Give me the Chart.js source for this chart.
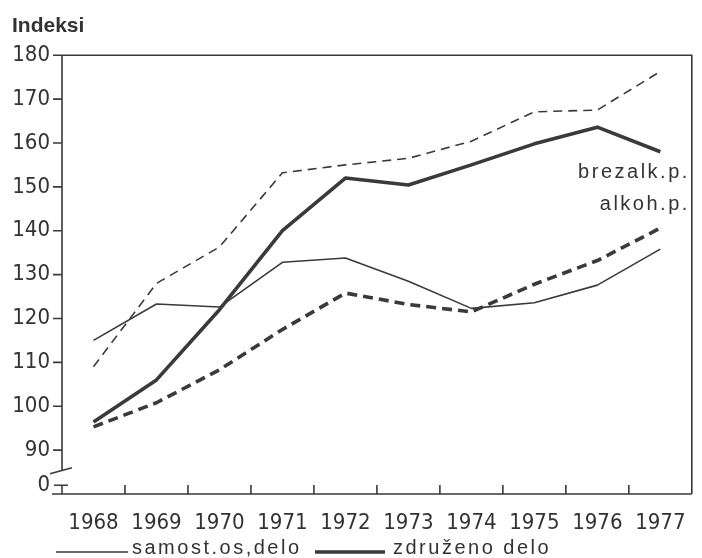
<!DOCTYPE html>
<html><head><meta charset="utf-8">
<script src="https://cdn.jsdelivr.net/npm/chart.js@4"></script>
<style>html,body{margin:0;padding:0;background:#fff}#wrap{width:702px;height:558px}</style>
</head><body><div id="wrap"><canvas id="c" width="702" height="558"></canvas></div>
<script>
// ---- data ----
const years = ['1968','1969','1970','1971','1972','1973','1974','1975','1976','1977'];
const samostBrezalk   = [109, 128, 136.3, 153.2, 155, 156.5, 160.4, 167.1, 167.5, 176.3]; // thin dashed
const zdruzenoBrezalk = [96.4, 106, 122, 140, 152, 150.4, 155, 159.8, 163.6, 158];        // thick solid
const samostAlkoh     = [115, 123.3, 122.6, 132.8, 133.8, 128.5, 122.3, 123.6, 127.6, 135.8]; // thin solid
const zdruzenoAlkoh   = [95.3, 100.8, 108.3, 117.5, 125.8, 123.2, 121.5, 127.8, 133.2, 140.6]; // thick dashed
const yTickValues = [82, 90, 100, 110, 120, 130, 140, 150, 160, 170, 180];
const yTickLabels = ['0', '90', '100', '110', '120', '130', '140', '150', '160', '170', '180'];
const legendLabels = ['samost.os,delo', 'združeno delo'];
const groupLabels = ['brezalk.p.', 'alkoh.p.'];
const groupLabelValues = [153.3, 146];
const axisTitle = 'Indeksi';

const INK = '#3a3a3a';
const TXT = '#333333';
const NUMFONT = "'Liberation Sans Narrow','DejaVu Sans Condensed','Liberation Sans',sans-serif";
const TXTFONT = "'Liberation Sans','DejaVu Sans',sans-serif";

const frame = {
  id: 'frame',
  beforeDatasetsDraw(chart) {
    const {ctx, chartArea: a, scales: {x, y}} = chart;
    ctx.save();
    ctx.strokeStyle = INK; ctx.lineWidth = 1.6; ctx.lineCap = 'butt';
    ctx.beginPath();
    ctx.moveTo(a.left, a.top); ctx.lineTo(a.right, a.top); ctx.lineTo(a.right, a.bottom);
    ctx.moveTo(a.left - 10, a.bottom); ctx.lineTo(a.right, a.bottom);
    const yb = y.getPixelForValue(85.3);
    ctx.moveTo(a.left, a.top); ctx.lineTo(a.left, yb);
    ctx.moveTo(a.left - 12, yb + 3); ctx.lineTo(a.left + 10, yb - 3);
    const y0 = y.getPixelForValue(yTickValues[0]);
    ctx.moveTo(a.left, y0); ctx.lineTo(a.left, a.bottom);
    ctx.moveTo(a.left - 8, y0); ctx.lineTo(a.left + 6, y0);
    yTickValues.slice(1).forEach(v => {
      const py = y.getPixelForValue(v);
      ctx.moveTo(a.left - 9, py); ctx.lineTo(a.left, py);
    });
    for (let i = 0; i < years.length - 1; i++) {
      const px = (x.getPixelForValue(i) + x.getPixelForValue(i + 1)) / 2;
      ctx.moveTo(px, a.bottom); ctx.lineTo(px, a.bottom - 9);
    }
    ctx.stroke();
    ctx.restore();
  },
  afterDraw(chart) {
    const {ctx, chartArea: a, scales: {y}} = chart;
    ctx.save();
    ctx.fillStyle = TXT;
    ctx.font = "20px " + TXTFONT;
    if ('letterSpacing' in ctx) ctx.letterSpacing = '2.5px';
    ctx.textAlign = 'right'; ctx.textBaseline = 'middle';
    groupLabels.forEach((t, i) => ctx.fillText(t, a.right - 2, y.getPixelForValue(groupLabelValues[i])));
    // legend
    const ly = a.bottom + 54;
    ctx.textAlign = 'left';
    ctx.font = "20px " + TXTFONT;
    if ('letterSpacing' in ctx) ctx.letterSpacing = '2.5px';
    ctx.strokeStyle = INK;
    ctx.lineWidth = 1.5;
    ctx.beginPath(); ctx.moveTo(a.left - 6, ly + 4); ctx.lineTo(a.left + 66, ly + 4); ctx.stroke();
    ctx.fillText(legendLabels[0], a.left + 70, ly);
    ctx.lineWidth = 3.5;
    ctx.beginPath(); ctx.moveTo(a.left + 253, ly + 4); ctx.lineTo(a.left + 323, ly + 4); ctx.stroke();
    ctx.fillText(legendLabels[1], a.left + 331, ly);
    ctx.restore();
  }
};

new Chart(document.getElementById('c'), {
  type: 'line',
  data: {
    labels: years,
    datasets: [
      {label: 'samost.os,delo – brezalk.p.', data: samostBrezalk, borderColor: INK, borderWidth: 1.6, borderDash: [9, 6]},
      {label: 'združeno delo – brezalk.p.', data: zdruzenoBrezalk, borderColor: INK, borderWidth: 3.6},
      {label: 'samost.os,delo – alkoh.p.', data: samostAlkoh, borderColor: INK, borderWidth: 1.6},
      {label: 'združeno delo – alkoh.p.', data: zdruzenoAlkoh, borderColor: INK, borderWidth: 3.6, borderDash: [10, 6]}
    ].map(d => Object.assign({pointRadius: 0, tension: 0, fill: false, borderJoinStyle: 'round'}, d))
  },
  options: {
    responsive: false,
    animation: false,
    devicePixelRatio: 1,
    layout: {padding: {left: 12, right: 10, top: 0, bottom: 0}},
    plugins: {
      legend: {display: false},
      tooltip: {enabled: false},
      title: {display: true, text: axisTitle, align: 'start', color: TXT,
              font: {family: TXTFONT, size: 21, weight: 'bold', lineHeight: 1.2}, padding: {top: 14, bottom: 16}}
    },
    scales: {
      x: {
        type: 'category', offset: true,
        grid: {display: false, drawTicks: false, offset: true},
        border: {display: false},
        ticks: {color: TXT, font: {family: NUMFONT, size: 22}, padding: 16, maxRotation: 0, autoSkip: false},
        afterFit: s => { s.height = 64; }
      },
      y: {
        min: 80, max: 180,
        afterBuildTicks: s => { s.ticks = yTickValues.map(v => ({value: v})); },
        grid: {display: false, drawTicks: false},
        border: {display: false},
        ticks: {color: TXT, font: {family: NUMFONT, size: 22}, padding: 12,
                callback: v => yTickLabels[yTickValues.indexOf(v)]},
        afterFit: s => { s.width = 50; }
      }
    }
  },
  plugins: [frame]
});
</script></body></html>
